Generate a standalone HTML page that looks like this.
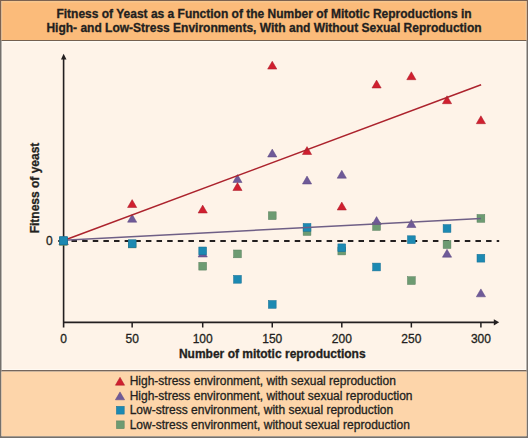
<!DOCTYPE html>
<html><head><meta charset="utf-8"><style>
html,body{margin:0;padding:0;width:528px;height:438px;overflow:hidden;background:#fef3e8}
svg{display:block}
text{font-family:"Liberation Sans",sans-serif;font-size:12px;fill:#231f20;stroke:#231f20;stroke-width:0.3px}
.b{font-weight:bold}
</style></head><body>
<svg width="528" height="438" viewBox="0 0 528 438">
<rect x="0" y="0" width="528" height="438" fill="#74706c"/>
<rect x="0" y="0" width="528" height="40" fill="#7c6250"/>
<rect x="1.5" y="1" width="525" height="435.2" fill="#fffaf3"/>
<rect x="1.5" y="1" width="525" height="39.5" fill="#f6c68e"/>
<rect x="2.5" y="2.5" width="523" height="38" fill="#fbbb7a"/>
<rect x="1.5" y="40" width="525" height="1" fill="#74604f"/>
<rect x="2.5" y="42.5" width="523" height="326.5" fill="#fef3e8"/>
<rect x="1.5" y="370" width="525" height="1.6" fill="#75665c"/>
<rect x="1.5" y="371.6" width="525" height="64.6" fill="#fdd5aa"/>
<rect x="2.5" y="372.6" width="522.5" height="62.4" fill="#fdd5aa"/>
<text class="b" x="264" y="17.6" text-anchor="middle">Fitness of Yeast as a Function of the Number of Mitotic Reproductions in</text>
<text class="b" x="264" y="31.9" text-anchor="middle">High- and Low-Stress Environments, With and Without Sexual Reproduction</text>
<line x1="71.5" y1="241" x2="499.2" y2="241" stroke="#231f20" stroke-width="2" stroke-dasharray="5.5 5.13"/>
<line x1="63.6" y1="58" x2="63.6" y2="327.5" stroke="#231f20" stroke-width="1.6"/>
<path d="M61 59.5L66.5 59.5L63.6 53.8Z" fill="#231f20"/>
<line x1="58" y1="241" x2="63.6" y2="241" stroke="#231f20" stroke-width="1.5"/>
<line x1="63" y1="322.3" x2="495" y2="322.3" stroke="#231f20" stroke-width="1.8"/>
<path d="M493.8 319.2L493.8 325.4L499.2 322.3Z" fill="#231f20"/>
<line x1="132.15" y1="322" x2="132.15" y2="327.5" stroke="#231f20" stroke-width="1.5"/><line x1="202.70" y1="322" x2="202.70" y2="327.5" stroke="#231f20" stroke-width="1.5"/><line x1="272.25" y1="322" x2="272.25" y2="327.5" stroke="#231f20" stroke-width="1.5"/><line x1="341.80" y1="322" x2="341.80" y2="327.5" stroke="#231f20" stroke-width="1.5"/><line x1="411.35" y1="322" x2="411.35" y2="327.5" stroke="#231f20" stroke-width="1.5"/><line x1="480.90" y1="322" x2="480.90" y2="327.5" stroke="#231f20" stroke-width="1.5"/>
<text x="63.60" y="343" text-anchor="middle">0</text><text x="132.15" y="343" text-anchor="middle">50</text><text x="202.70" y="343" text-anchor="middle">100</text><text x="272.25" y="343" text-anchor="middle">150</text><text x="341.80" y="343" text-anchor="middle">200</text><text x="411.35" y="343" text-anchor="middle">250</text><text x="480.90" y="343" text-anchor="middle">300</text>
<text x="52.8" y="245.2" text-anchor="end">0</text>
<text class="b" x="272.3" y="357.6" text-anchor="middle">Number of mitotic reproductions</text>
<text class="b" transform="translate(38.7,188) rotate(-90)" text-anchor="middle">Fitness of yeast</text>
<path d="M59.00 244.50L68.20 244.50L63.60 236.60Z" fill="#d01f2f" stroke="#a81a28" stroke-width="0.5"/><path d="M59.00 244.50L68.20 244.50L63.60 236.60Z" fill="#6f5a98" stroke="#5a4680" stroke-width="0.5"/><rect x="59.70" y="237.60" width="7.8" height="7.8" fill="#6d9b72" stroke="#5a8060" stroke-width="0.5"/><rect x="128.25" y="240.10" width="7.8" height="7.8" fill="#6d9b72" stroke="#5a8060" stroke-width="0.5"/><rect x="198.80" y="262.30" width="7.8" height="7.8" fill="#6d9b72" stroke="#5a8060" stroke-width="0.5"/><rect x="233.57" y="250.00" width="7.8" height="7.8" fill="#6d9b72" stroke="#5a8060" stroke-width="0.5"/><rect x="268.35" y="211.80" width="7.8" height="7.8" fill="#6d9b72" stroke="#5a8060" stroke-width="0.5"/><rect x="303.13" y="227.60" width="7.8" height="7.8" fill="#6d9b72" stroke="#5a8060" stroke-width="0.5"/><rect x="337.90" y="247.10" width="7.8" height="7.8" fill="#6d9b72" stroke="#5a8060" stroke-width="0.5"/><rect x="372.68" y="222.60" width="7.8" height="7.8" fill="#6d9b72" stroke="#5a8060" stroke-width="0.5"/><rect x="407.45" y="276.70" width="7.8" height="7.8" fill="#6d9b72" stroke="#5a8060" stroke-width="0.5"/><rect x="443.12" y="240.70" width="7.8" height="7.8" fill="#6d9b72" stroke="#5a8060" stroke-width="0.5"/><rect x="477.00" y="214.50" width="7.8" height="7.8" fill="#6d9b72" stroke="#5a8060" stroke-width="0.5"/><path d="M127.55 222.20L136.75 222.20L132.15 214.30Z" fill="#6f5a98" stroke="#5a4680" stroke-width="0.5"/><path d="M198.10 257.00L207.30 257.00L202.70 249.10Z" fill="#6f5a98" stroke="#5a4680" stroke-width="0.5"/><path d="M232.88 182.50L242.07 182.50L237.47 174.60Z" fill="#6f5a98" stroke="#5a4680" stroke-width="0.5"/><path d="M267.65 157.00L276.85 157.00L272.25 149.10Z" fill="#6f5a98" stroke="#5a4680" stroke-width="0.5"/><path d="M302.43 184.00L311.63 184.00L307.03 176.10Z" fill="#6f5a98" stroke="#5a4680" stroke-width="0.5"/><path d="M337.20 178.20L346.40 178.20L341.80 170.30Z" fill="#6f5a98" stroke="#5a4680" stroke-width="0.5"/><path d="M371.98 224.50L381.18 224.50L376.58 216.60Z" fill="#6f5a98" stroke="#5a4680" stroke-width="0.5"/><path d="M406.75 227.50L415.95 227.50L411.35 219.60Z" fill="#6f5a98" stroke="#5a4680" stroke-width="0.5"/><path d="M442.42 257.20L451.62 257.20L447.02 249.30Z" fill="#6f5a98" stroke="#5a4680" stroke-width="0.5"/><path d="M476.30 296.80L485.50 296.80L480.90 288.90Z" fill="#6f5a98" stroke="#5a4680" stroke-width="0.5"/><rect x="59.70" y="236.80" width="7.8" height="7.8" fill="#1c89b2" stroke="#146f94" stroke-width="0.5"/><rect x="128.25" y="239.80" width="7.8" height="7.8" fill="#1c89b2" stroke="#146f94" stroke-width="0.5"/><rect x="198.80" y="247.00" width="7.8" height="7.8" fill="#1c89b2" stroke="#146f94" stroke-width="0.5"/><rect x="233.57" y="275.40" width="7.8" height="7.8" fill="#1c89b2" stroke="#146f94" stroke-width="0.5"/><rect x="268.35" y="300.50" width="7.8" height="7.8" fill="#1c89b2" stroke="#146f94" stroke-width="0.5"/><rect x="303.13" y="223.50" width="7.8" height="7.8" fill="#1c89b2" stroke="#146f94" stroke-width="0.5"/><rect x="337.90" y="243.90" width="7.8" height="7.8" fill="#1c89b2" stroke="#146f94" stroke-width="0.5"/><rect x="372.68" y="263.10" width="7.8" height="7.8" fill="#1c89b2" stroke="#146f94" stroke-width="0.5"/><rect x="407.45" y="235.80" width="7.8" height="7.8" fill="#1c89b2" stroke="#146f94" stroke-width="0.5"/><rect x="443.12" y="224.60" width="7.8" height="7.8" fill="#1c89b2" stroke="#146f94" stroke-width="0.5"/><rect x="477.00" y="254.30" width="7.8" height="7.8" fill="#1c89b2" stroke="#146f94" stroke-width="0.5"/><path d="M127.55 207.50L136.75 207.50L132.15 199.60Z" fill="#d01f2f" stroke="#a81a28" stroke-width="0.5"/><path d="M198.10 213.00L207.30 213.00L202.70 205.10Z" fill="#d01f2f" stroke="#a81a28" stroke-width="0.5"/><path d="M232.88 190.50L242.07 190.50L237.47 182.60Z" fill="#d01f2f" stroke="#a81a28" stroke-width="0.5"/><path d="M267.65 69.10L276.85 69.10L272.25 61.20Z" fill="#d01f2f" stroke="#a81a28" stroke-width="0.5"/><path d="M302.43 154.50L311.63 154.50L307.03 146.60Z" fill="#d01f2f" stroke="#a81a28" stroke-width="0.5"/><path d="M337.20 210.00L346.40 210.00L341.80 202.10Z" fill="#d01f2f" stroke="#a81a28" stroke-width="0.5"/><path d="M371.98 88.00L381.18 88.00L376.58 80.10Z" fill="#d01f2f" stroke="#a81a28" stroke-width="0.5"/><path d="M406.75 79.70L415.95 79.70L411.35 71.80Z" fill="#d01f2f" stroke="#a81a28" stroke-width="0.5"/><path d="M442.42 103.70L451.62 103.70L447.02 95.80Z" fill="#d01f2f" stroke="#a81a28" stroke-width="0.5"/><path d="M476.30 123.70L485.50 123.70L480.90 115.80Z" fill="#d01f2f" stroke="#a81a28" stroke-width="0.5"/>
<line x1="63.6" y1="240.5" x2="481.1" y2="84.8" stroke="#ac232d" stroke-width="1.5"/><line x1="63.6" y1="240.3" x2="481" y2="218.5" stroke="#6f5f86" stroke-width="1.5"/>
<rect x="59.80" y="236.80" width="7.8" height="7.8" fill="#1c89b2" stroke="#146f94" stroke-width="0.5"/>
<path d="M115.40 385.20L124.60 385.20L120.00 377.30Z" fill="#d01f2f" stroke="#a81a28" stroke-width="0.5"/><text x="129.7" y="385.20">High-stress environment, with sexual reproduction</text><path d="M115.40 399.80L124.60 399.80L120.00 391.90Z" fill="#6f5a98" stroke="#5a4680" stroke-width="0.5"/><text x="129.7" y="399.80">High-stress environment, without sexual reproduction</text><rect x="116.40" y="406.30" width="7.8" height="7.8" fill="#1c89b2" stroke="#146f94" stroke-width="0.5"/><text x="129.7" y="414.40">Low-stress environment, with sexual reproduction</text><rect x="116.40" y="420.90" width="7.8" height="7.8" fill="#6d9b72" stroke="#5a8060" stroke-width="0.5"/><text x="129.7" y="429.00">Low-stress environment, without sexual reproduction</text>
</svg>
</body></html>
